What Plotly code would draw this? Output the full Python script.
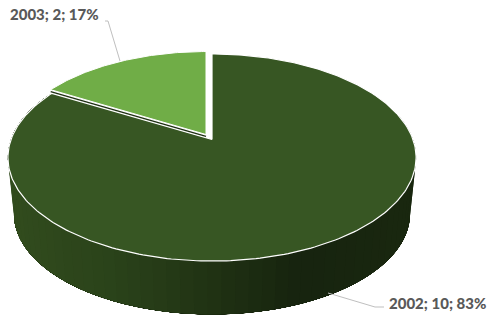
import numpy as np
import plotly.graph_objects as go

categories = ["2002", "2003"]
values = [10, 2]
slice_colors = ["#375623", "#70AD47"]
text_color = "#595959"
leader_color = "#BFBFBF"
wall_stops = [(8, (50, 76, 30)), (120, (42, 66, 26)), (210, (33, 51, 20)), (300, (23, 36, 15)), (417, (26, 40, 16))]

CX, CY, A, B, P = 212, 139.5, 201, 100.4, 0.174
BOT_DY, BOT_S = 57, 0.97
GREEN_DX, GREEN_DY, GREEN_S = -6, -5, 0.97


def rim(t, cx=CX, cy=CY, s=1.0):
    X, Y = np.sin(t), np.cos(t)
    w = 1 + P * Y
    return cx + s * A * X / w, cy - s * B * Y / w


total = sum(values)
frac = [v / total for v in values]
end_dark = 2 * np.pi * frac[0]

fig = go.Figure()


def poly(x, y, fill, line=None, lw=1.0):
    fig.add_trace(go.Scatter(x=list(x), y=list(y), mode="lines", fill="toself", fillcolor=fill,
                             line=dict(color=line or fill, width=lw), hoverinfo="skip", showlegend=False))


# side wall of the large slice: each piece runs to the end, so later pieces paint over without seams
edges = np.linspace(np.radians(72), end_dark, 70)
xs_stop = [s[0] for s in wall_stops]
for i in range(len(edges) - 1):
    ts = np.linspace(edges[i], end_dark, 120)
    xa, ya = rim(ts)
    xb, yb = rim(ts[::-1], cy=CY + BOT_DY, s=BOT_S)
    xm = float(rim(np.array([(edges[i] + edges[i + 1]) / 2]))[0][0])
    rgb = [int(np.interp(xm, xs_stop, [s[1][k] for s in wall_stops])) for k in range(3)]
    poly(np.r_[xa, xb], np.r_[ya, yb], f"rgb({rgb[0]},{rgb[1]},{rgb[2]})", lw=0)

# top face of the large slice
t = np.linspace(0, end_dark, 300)
x, y = rim(t)
poly(np.r_[CX, x, CX], np.r_[CY, y, CY], slice_colors[0], "#FFFFFF", 1.2)

# small slice, pulled out
t = np.linspace(end_dark, 2 * np.pi, 80)
gx, gy = CX + GREEN_DX, CY + GREEN_DY
x, y = rim(t, cx=gx, cy=gy, s=GREEN_S)
fig.add_trace(go.Scatter(x=[x[0], gx], y=[y[0] + 1.9, gy + 1.9], mode="lines",
                         line=dict(color="#1E2F12", width=1.3), hoverinfo="skip", showlegend=False))
poly(np.r_[gx, x, gx], np.r_[gy, y, gy], slice_colors[1], "#FFFFFF", 1.0)

# leader lines
for lx, ly in [([105, 108, 120], [21, 21, 61]), ([328, 375, 384], [293, 307, 307])]:
    fig.add_trace(go.Scatter(x=lx, y=ly, mode="lines", line=dict(color=leader_color, width=1),
                             hoverinfo="skip", showlegend=False))

labels = [f"{c}; {v}; {round(f * 100)}%" for c, v, f in zip(categories, values, frac)]
for lab, lx, ly in zip(labels, [387, 8], [303, 14]):
    fig.add_annotation(x=lx, y=ly, text=lab, showarrow=False, xanchor="left", yanchor="middle",
                       font=dict(family="Lato", size=15, color=text_color, weight=900))

fig.update_layout(width=492, height=320, margin=dict(l=0, r=0, t=0, b=0), paper_bgcolor="white",
                  plot_bgcolor="white", showlegend=False,
                  xaxis=dict(range=[0, 492], visible=False, fixedrange=True),
                  yaxis=dict(range=[320, 0], visible=False, fixedrange=True))
fig.write_html("out.html", config=dict(displayModeBar=False),
               post_script="document.body.style.margin='0';document.body.style.overflow='hidden';")
